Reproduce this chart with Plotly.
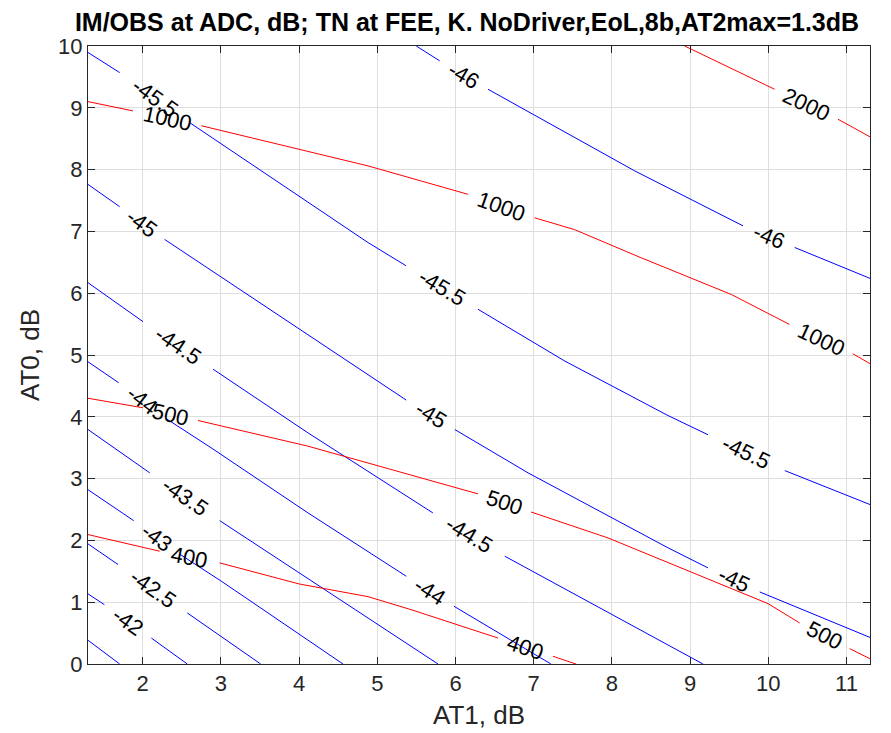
import math
import plotly.graph_objects as go

# ---------------- data ----------------
x_range = [1.3, 11.3]
y_range = [0, 10]
x_ticks = [2, 3, 4, 5, 6, 7, 8, 9, 10, 11]
y_ticks = [0, 1, 2, 3, 4, 5, 6, 7, 8, 9, 10]

# IM/OBS at ADC, dB contours (blue). Each contour: list of segments; a label sits in each gap.
im_415_x = [[1.30, 1.705]]
im_415_y = [[0.384, 0.0]]

im_42_x = [[1.30, 1.51], [2.11, 2.57]]
im_42_y = [[1.134, 0.96], [0.42, 0.0]]

im_425_x = [[1.30, 1.684], [2.57, 3.508]]
im_425_y = [[1.943, 1.61], [0.826, 0.0]]

im_43_x = [[1.30, 1.884], [2.47, 3.005, 4.561]]
im_43_y = [[2.82, 2.32], [1.78, 1.34, 0.0]]

im_435_x = [[1.30, 2.09], [2.984, 4.88, 5.776]]
im_435_y = [[3.794, 3.093], [2.32, 0.745, 0.0]]

im_44_x = [[1.30, 1.693], [2.30, 2.873, 4.113, 5.37], [5.98, 7.22]]
im_44_y = [[4.89, 4.55], [3.97, 3.50, 2.445, 1.42], [0.934, 0.0]]

im_445_x = [[1.30, 2.003], [2.90, 4.113, 5.71], [6.63, 8.717, 9.164]]
im_445_y = [[6.17, 5.54], [4.77, 3.74, 2.445], [1.744, 0.31, 0.0]]

im_45_x = [[1.30, 1.705], [2.28, 4.88, 5.37], [5.99, 6.927, 8.717, 9.228], [9.89, 11.3]]
im_45_y = [[7.76, 7.40], [6.87, 4.685, 4.27], [3.794, 3.093, 1.88, 1.555], [1.166, 0.43]]

im_455_x = [[1.30, 1.705], [2.60, 4.88, 5.366], [6.287, 7.40, 8.717, 9.228], [10.21, 11.3]]
im_455_y = [[9.895, 9.57], [8.76, 6.82, 6.445], [5.74, 4.90, 4.02, 3.71], [3.13, 2.58]]

im_46_x = [[5.498, 5.797], [6.415, 8.29, 9.676], [10.337, 11.3]]
im_46_y = [[10.0, 9.76], [9.30, 7.98, 7.09], [6.74, 6.24]]

# TN at FEE, K contours (red)
tn_400_x = [[1.30, 2.217], [2.984, 3.998, 4.88, 5.43, 6.543], [7.246, 7.54]]
tn_400_y = [[2.094, 1.825], [1.636, 1.296, 1.09, 0.88, 0.42], [0.125, 0.0]]

tn_500_x = [[1.30, 2.003], [2.707, 4.113, 6.287], [6.965, 7.95, 9.996, 10.40], [11.04, 11.3]]
tn_500_y = [[4.30, 4.146], [3.94, 3.525, 2.753], [2.46, 2.04, 0.977, 0.664], [0.248, 0.086]]

tn_1000_x = [[1.30, 1.875], [2.749, 4.88, 6.16], [7.01, 7.52, 8.37, 9.526, 10.27], [11.08, 11.3]]
tn_1000_y = [[9.10, 8.95], [8.71, 8.06, 7.60], [7.22, 7.03, 6.575, 5.98, 5.495], [5.02, 4.86]]

tn_2000_x = [[8.93, 10.08], [10.89, 11.3]]
tn_2000_y = [[10.0, 9.30], [8.815, 8.53]]

contours = [
    ("-41.5", "blue", im_415_x, im_415_y),
    ("-42", "blue", im_42_x, im_42_y),
    ("-42.5", "blue", im_425_x, im_425_y),
    ("-43", "blue", im_43_x, im_43_y),
    ("-43.5", "blue", im_435_x, im_435_y),
    ("-44", "blue", im_44_x, im_44_y),
    ("-44.5", "blue", im_445_x, im_445_y),
    ("-45", "blue", im_45_x, im_45_y),
    ("-45.5", "blue", im_455_x, im_455_y),
    ("-46", "blue", im_46_x, im_46_y),
    ("400", "red", tn_400_x, tn_400_y),
    ("500", "red", tn_500_x, tn_500_y),
    ("1000", "red", tn_1000_x, tn_1000_y),
    ("2000", "red", tn_2000_x, tn_2000_y),
]

title_text = "IM/OBS at ADC, dB; TN at FEE, K. NoDriver,EoL,8b,AT2max=1.3dB"
x_title = "AT1, dB"
y_title = "AT0, dB"

# ---------------- figure ----------------
W, H = 891, 733
M = dict(l=80, r=29, t=38, b=77)
plot_w = W - M["l"] - M["r"]
plot_h = H - M["t"] - M["b"]
ppx = plot_w / (x_range[1] - x_range[0])
ppy = plot_h / (y_range[1] - y_range[0])

FONT = "Liberation Sans, Arial, sans-serif"
colors = {"blue": "#0000ff", "red": "#ff0000"}

fig = go.Figure()
for label, col, xs, ys in contours:
    X, Y = [], []
    for sx, sy in zip(xs, ys):
        X += list(sx) + [None]
        Y += list(sy) + [None]
    fig.add_trace(go.Scatter(x=X, y=Y, mode="lines",
                             line=dict(color=colors[col], width=1),
                             hoverinfo="skip", showlegend=False))
    for i in range(len(xs) - 1):
        x0, y0 = xs[i][-1], ys[i][-1]
        x1, y1 = xs[i + 1][0], ys[i + 1][0]
        ang = math.degrees(math.atan2(-(y1 - y0) * ppy, (x1 - x0) * ppx))
        fig.add_annotation(x=(x0 + x1) / 2, y=(y0 + y1) / 2, text=label,
                           textangle=ang, showarrow=False,
                           xanchor="center", yanchor="middle",
                           font=dict(family=FONT, size=22, color="black"))

# y-axis title placed as a rotated annotation left of the tick labels
fig.add_annotation(x=-(M["l"] - 22) / plot_w, y=0.5, xref="paper", yref="paper",
                   text=y_title, textangle=-90, showarrow=False,
                   xanchor="center", yanchor="middle",
                   font=dict(family=FONT, size=26, color="#262626"))

axis_common = dict(
    showline=True, linecolor="#262626", linewidth=1, mirror="ticks",
    ticks="inside", ticklen=7, tickcolor="#262626", tickwidth=1,
    showgrid=True, gridcolor="#dedede", gridwidth=1, zeroline=False,
    automargin=False,
    tickfont=dict(family=FONT, size=22, color="#262626"),
)

fig.update_layout(
    width=W, height=H, margin=M,
    plot_bgcolor="white", paper_bgcolor="white",
    title=dict(text=title_text, x=459 / W, xref="container", xanchor="center",
               y=1 - 14 / H, yref="container", yanchor="middle",
               font=dict(family=FONT, size=25, color="black", weight="bold")),
    xaxis=dict(range=x_range, tickvals=x_ticks,
               title=dict(text=x_title, font=dict(family=FONT, size=26, color="#262626"), standoff=10),
               **axis_common),
    yaxis=dict(range=y_range, tickvals=y_ticks, **axis_common),
)

fig.write_html("out.html")
